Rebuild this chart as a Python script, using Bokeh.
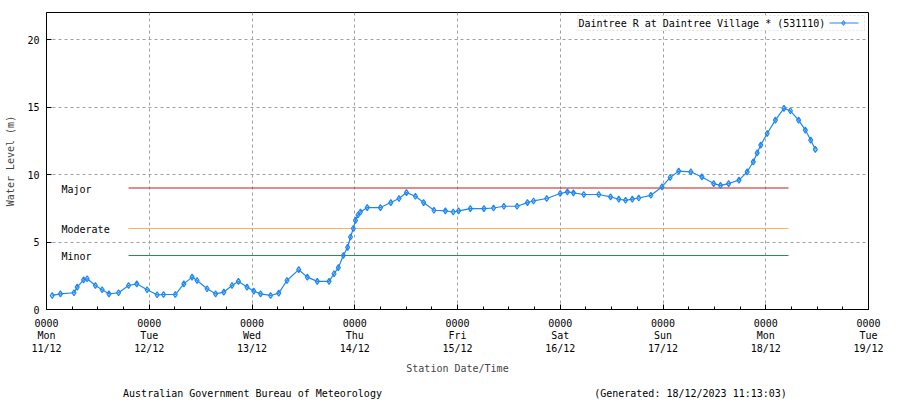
import pandas as pd
from bokeh.plotting import figure
from bokeh.models import FixedTicker, Label, BoxAnnotation, Range1d, LinearAxis
from bokeh.embed import file_html
from bokeh.resources import INLINE

# ---------------- data ----------------
station_name = "Daintree R at Daintree Village * (531110)"

times = [
    "2023-12-11 01:20", "2023-12-11 03:15", "2023-12-11 06:25", "2023-12-11 07:10",
    "2023-12-11 08:40", "2023-12-11 09:30", "2023-12-11 11:25", "2023-12-11 13:00",
    "2023-12-11 14:35", "2023-12-11 16:50", "2023-12-11 19:10", "2023-12-11 21:05",
    "2023-12-11 23:30", "2023-12-12 01:50", "2023-12-12 03:20", "2023-12-12 06:05",
    "2023-12-12 08:05", "2023-12-12 10:00", "2023-12-12 11:10", "2023-12-12 13:30",
    "2023-12-12 15:30", "2023-12-12 17:25", "2023-12-12 19:20", "2023-12-12 20:50",
    "2023-12-12 22:50", "2023-12-13 00:25", "2023-12-13 02:00", "2023-12-13 04:20",
    "2023-12-13 06:15", "2023-12-13 08:10", "2023-12-13 10:55", "2023-12-13 12:55",
    "2023-12-13 15:15", "2023-12-13 18:00", "2023-12-13 19:10", "2023-12-13 20:10",
    "2023-12-13 21:20", "2023-12-13 22:20", "2023-12-13 23:00", "2023-12-13 23:40",
    "2023-12-14 00:10", "2023-12-14 00:45", "2023-12-14 01:20", "2023-12-14 02:55",
    "2023-12-14 06:00", "2023-12-14 08:25", "2023-12-14 10:20", "2023-12-14 12:05",
    "2023-12-14 14:10", "2023-12-14 16:05", "2023-12-14 18:30", "2023-12-14 21:10",
    "2023-12-14 23:00", "2023-12-15 00:15", "2023-12-15 03:00", "2023-12-15 06:10",
    "2023-12-15 08:25", "2023-12-15 10:50", "2023-12-15 13:55", "2023-12-15 16:20",
    "2023-12-15 17:45", "2023-12-15 20:50", "2023-12-16 00:00", "2023-12-16 01:40",
    "2023-12-16 03:05", "2023-12-16 05:30", "2023-12-16 09:00", "2023-12-16 11:45",
    "2023-12-16 13:40", "2023-12-16 15:15", "2023-12-16 16:50", "2023-12-16 18:20",
    "2023-12-16 21:10", "2023-12-16 23:45", "2023-12-17 01:40", "2023-12-17 03:40",
    "2023-12-17 06:30", "2023-12-17 09:05", "2023-12-17 11:50", "2023-12-17 13:25",
    "2023-12-17 15:20", "2023-12-17 17:45", "2023-12-17 19:40", "2023-12-17 21:05",
    "2023-12-17 22:00", "2023-12-17 22:50", "2023-12-18 00:20", "2023-12-18 02:15",
    "2023-12-18 04:15", "2023-12-18 05:45", "2023-12-18 07:40", "2023-12-18 09:15",
    "2023-12-18 10:30", "2023-12-18 11:35",
]
levels = [
    1.04, 1.16, 1.24, 1.66,
    2.20, 2.28, 1.78, 1.46,
    1.16, 1.24, 1.78, 1.90,
    1.46, 1.09, 1.11, 1.11,
    1.90, 2.40, 2.15, 1.54,
    1.16, 1.29, 1.78, 2.08,
    1.66, 1.36, 1.16, 1.04,
    1.21, 2.15, 2.95, 2.40,
    2.08, 2.08, 2.65, 3.10,
    4.00, 4.60, 5.37, 6.00,
    6.60, 7.00, 7.22, 7.55,
    7.55, 7.92, 8.22, 8.66,
    8.39, 7.92, 7.35, 7.30,
    7.22, 7.30, 7.47, 7.47,
    7.52, 7.65, 7.65, 7.92,
    8.04, 8.22, 8.59, 8.71,
    8.64, 8.52, 8.52, 8.34,
    8.17, 8.09, 8.17, 8.26,
    8.46, 9.08, 9.78, 10.25,
    10.20, 9.82, 9.33, 9.20,
    9.33, 9.58, 10.20, 10.94,
    11.60, 12.18, 13.04, 14.03,
    14.90, 14.72, 14.03, 13.29,
    12.55, 11.86,
]

threshold_names = ["Major", "Moderate", "Minor"]
threshold_levels = [9, 6, 4]
threshold_colors = ["#c81818", "#ffb450", "#2e8b57"]
threshold_start = "2023-12-11 19:10"
threshold_end = "2023-12-18 05:20"

day_ticks = ["2023-12-11", "2023-12-12", "2023-12-13", "2023-12-14", "2023-12-15",
             "2023-12-16", "2023-12-17", "2023-12-18", "2023-12-19"]
day_tick_labels = ["0000\nMon\n11/12", "0000\nTue\n12/12", "0000\nWed\n13/12",
                   "0000\nThu\n14/12", "0000\nFri\n15/12", "0000\nSat\n16/12",
                   "0000\nSun\n17/12", "0000\nMon\n18/12", "0000\nTue\n19/12"]
y_ticks = [0, 5, 10, 15, 20]
y_max = 22

footer_texts = ["Australian Government Bureau of Meteorology",
                "(Generated: 18/12/2023 11:13:03)"]

# ---------------- helpers ----------------
def ms(s):
    return pd.Timestamp(s).value / 1e6

W, H = 900, 403
L, R, T, B = 46, 32, 12, 94
FW, FH = W - L - R, H - T - B
x0, x1 = ms(day_ticks[0]), ms(day_ticks[-1])

def px_x(px):
    return x0 + (px - L) / FW * (x1 - x0)

def px_y(py):
    return (T + FH - py) / FH * y_max

FONT = "DejaVu Sans Mono"
FS = "10px"
BLUE = "#1e88f0"

p = figure(width=W, height=H, x_axis_type="datetime", output_backend="svg",
           toolbar_location=None, min_border_left=L, min_border_right=R,
           min_border_top=T, min_border_bottom=B,
           x_range=Range1d(x0, x1), y_range=Range1d(0, y_max))
p.outline_line_color = "black"
p.outline_line_width = 1
p.background_fill_color = "white"
p.border_fill_color = "white"

# x axis
tick_ms = [ms(d) for d in day_ticks]
minor_ms = [ms(day_ticks[0]) + h * 3600e3 for h in range(0, 24 * 8 + 1, 6)]
xa = p.xaxis[0]
xa.ticker = FixedTicker(ticks=tick_ms, minor_ticks=minor_ms)
xa.major_label_overrides = {t: lab for t, lab in zip(tick_ms, day_tick_labels)}
xa.major_tick_in = 5
xa.major_tick_out = 0
xa.minor_tick_in = 3
xa.minor_tick_out = 0
xa.axis_line_color = "black"
xa.major_label_text_font = FONT
xa.major_label_text_font_size = FS
xa.major_label_text_color = "black"
xa.major_label_text_line_height = 1.15
xa.major_label_standoff = 8
xa.axis_label = "Station Date/Time"
xa.axis_label_text_font = FONT
xa.axis_label_text_font_size = FS
xa.axis_label_text_font_style = "normal"
xa.axis_label_standoff = 6

# footer line as a second, tick-less axis below
footer_pos = [px_x(252), px_x(690)]
fa = LinearAxis(ticker=FixedTicker(ticks=footer_pos, minor_ticks=[]),
                major_label_overrides={t: s for t, s in zip(footer_pos, footer_texts)},
                axis_line_color=None, major_tick_line_color=None,
                minor_tick_line_color=None, major_label_standoff=5,
                major_label_text_font=FONT, major_label_text_font_size=FS,
                major_label_text_color="black")
p.add_layout(fa, "below")

# y axis
ya = p.yaxis[0]
ya.ticker = FixedTicker(ticks=y_ticks, minor_ticks=[])
ya.major_tick_in = 5
ya.major_tick_out = 0
ya.minor_tick_line_color = None
ya.major_label_text_font = FONT
ya.major_label_text_font_size = FS
ya.major_label_text_color = "black"
ya.major_label_standoff = 7
ya.axis_label = "Water Level (m)"
ya.axis_label_text_font = FONT
ya.axis_label_text_font_size = FS
ya.axis_label_text_font_style = "normal"
ya.axis_label_standoff = 8

for g in (p.xgrid[0], p.ygrid[0]):
    g.grid_line_color = "#a0a0a0"
    g.grid_line_dash = "3 3"
    g.grid_line_width = 1
p.xgrid[0].ticker = xa.ticker
p.ygrid[0].ticker = ya.ticker

# thresholds
ts, te = ms(threshold_start), ms(threshold_end)
for name, lvl, col in zip(threshold_names, threshold_levels, threshold_colors):
    p.segment(x0=[ts], y0=[lvl], x1=[te], y1=[lvl], line_color=col, line_width=1)
    p.add_layout(Label(x=px_x(61), y=lvl, text=name, text_font=FONT, text_font_size=FS,
                       text_baseline="middle", text_align="left", y_offset=-1,
                       text_color="black"))

# series
xs = [ms(t) for t in times]
p.line(xs, levels, line_color=BLUE, line_width=1.2)
p.scatter(xs, levels, marker="diamond", size=6, line_color=BLUE, line_width=1.2,
          fill_color=BLUE, fill_alpha=0.3)

# legend (custom, text then sample)
p.add_layout(BoxAnnotation(left=px_x(577), right=px_x(864), top=px_y(15), bottom=px_y(30),
                           fill_color="white", fill_alpha=1, line_color="#a0a0a0",
                           line_dash="2 2", line_width=1, level="underlay"))
p.add_layout(Label(x=px_x(578), y=px_y(22.5), text=station_name, text_font=FONT,
                   text_font_size=FS, text_baseline="middle", text_color="black"))
p.line([px_x(829), px_x(858)], [px_y(22.5)] * 2, line_color=BLUE, line_width=1)
p.scatter([px_x(843)], [px_y(22.5)], marker="diamond", size=5, line_color=BLUE,
          fill_color=BLUE, fill_alpha=0.3)

open("out.html", "w").write(file_html(p, INLINE))
